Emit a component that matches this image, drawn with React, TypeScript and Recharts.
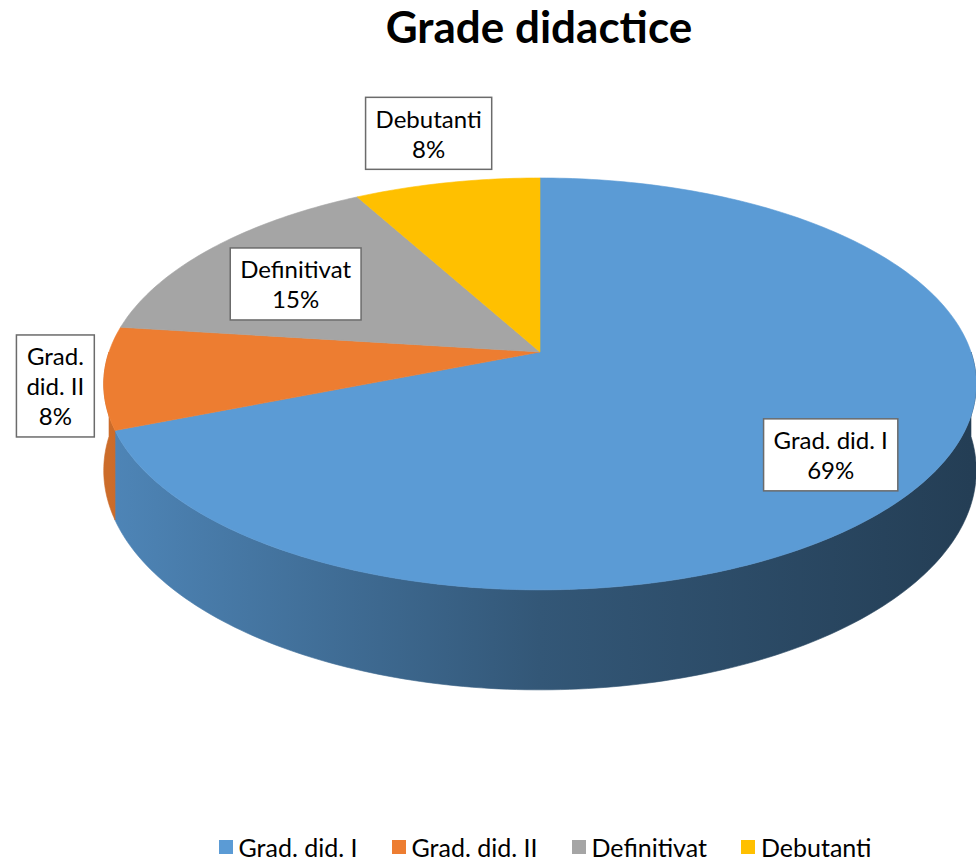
import React from 'react';
import { PieChart, Pie, Cell, Legend } from 'recharts';

const TITLE = 'Grade didactice';
const CATEGORIES = ['Grad. did. I', 'Grad. did. II', 'Definitivat', 'Debutanti'];
const SHARES = [69, 8, 15, 8];
const COLORS = ['#5B9BD5', '#ED7D31', '#A5A5A5', '#FFC000'];

const data = CATEGORIES.map((name, i) => ({ name, value: SHARES[i] }));

const W = 976;
const H = 863;
const CX = 540;
const CY = 352;
const R = 431;
// fake 3d: vertical squash, perspective and wall height
const TILT = 201 / 431;
const PERSP = 0.155;
const DEPTH = 84.5;
const FONT = 'Lato, "Open Sans", sans-serif';
const LABEL_SIZE = 24;
const LINE_H = 30;
const PAD_X = 10;
const PAD_Y = 6;
const GAP = 10;

const project = (cx: number, cy: number, r: number, angle: number, f: number, h = 0) => {
    const a = (angle * Math.PI) / 180;
    const X = Math.cos(a) * f;
    const Z = Math.sin(a) * f;
    const w = 1 + PERSP * Z;
    return { x: cx + (r * X) / w, y: cy + (-r * TILT * Z + h) / w };
};

const arcPoints = (cx: number, cy: number, r: number, from: number, to: number, h = 0) => {
    const steps = Math.max(2, Math.ceil(Math.abs(to - from)));
    const pts = [];
    for (let i = 0; i <= steps; i++) {
        const p = project(cx, cy, r, from + ((to - from) * i) / steps, 1, h);
        pts.push(`${p.x.toFixed(2)},${p.y.toFixed(2)}`);
    }
    return pts;
};

const shade = (hex: string, k: number) => {
    const n = parseInt(hex.slice(1), 16);
    const c = [(n >> 16) & 255, (n >> 8) & 255, n & 255].map(v => Math.round(v * k));
    return `rgb(${c[0]},${c[1]},${c[2]})`;
};

const TopShape = (p: any) => {
    const { cx, cy, outerRadius, startAngle, endAngle, fill } = p;
    const pts = arcPoints(cx, cy, outerRadius, startAngle, endAngle);
    const d = `M${cx},${cy} L${pts.join(' L')} Z`;
    return <path d={d} fill={fill} stroke={fill} strokeWidth={0.6} />;
};

const WallShape = (p: any) => {
    const { cx, cy, outerRadius, startAngle, endAngle, fill } = p;
    const lo = Math.max(Math.min(startAngle, endAngle), -180);
    const hi = Math.min(Math.max(startAngle, endAngle), 0);
    if (lo >= hi) return <g />;
    const top = arcPoints(cx, cy, outerRadius, hi, lo);
    const bottom = arcPoints(cx, cy, outerRadius, lo, hi, DEPTH);
    const id = `wall-${String(fill).replace('#', '')}`;
    return (
        <g>
            <defs>
                <linearGradient id={id} gradientUnits="userSpaceOnUse" x1={cx - outerRadius} y1={0} x2={cx + outerRadius} y2={0}>
                    <stop offset="0" stopColor={shade(fill, 0.86)} />
                    <stop offset="0.5" stopColor={shade(fill, 0.56)} />
                    <stop offset="1" stopColor={shade(fill, 0.4)} />
                </linearGradient>
            </defs>
            <path d={`M${top.join(' L')} L${bottom.join(' L')} Z`} fill={`url(#${id})`} stroke={`url(#${id})`} strokeWidth={0.6} />
        </g>
    );
};

let measureCtx: CanvasRenderingContext2D | null = null;
const textWidth = (s: string) => {
    if (!measureCtx) measureCtx = document.createElement('canvas').getContext('2d');
    if (!measureCtx) return s.length * LABEL_SIZE * 0.5;
    measureCtx.font = `${LABEL_SIZE}px ${FONT}`;
    return measureCtx.measureText(s).width;
};

const wrap = (s: string, maxW: number) => {
    const words = s.split(' ');
    const lines: string[] = [];
    let cur = '';
    words.forEach(wd => {
        const next = cur ? `${cur} ${wd}` : wd;
        if (cur && textWidth(next) > maxW) {
            lines.push(cur);
            cur = wd;
        } else cur = next;
    });
    if (cur) lines.push(cur);
    return lines;
};

const renderLabel = (p: any) => {
    const { cx, cy, outerRadius, startAngle, endAngle, percent, name } = p;
    const mid = (startAngle + endAngle) / 2;
    const pct = `${Math.round(percent * 100)}%`;
    let lines: string[];
    let center: { x: number; y: number };
    let bw: number;
    let bh: number;
    if (percent >= 0.1) {
        lines = [name, pct];
        bw = Math.max(...lines.map(textWidth)) + PAD_X * 2;
        bh = lines.length * LINE_H + PAD_Y * 2;
        center = project(cx, cy, outerRadius, mid, 0.72 + percent * 0.06, 10);
    } else {
        const rim = project(cx, cy, outerRadius, mid, 1);
        const cos = Math.cos((mid * Math.PI) / 180);
        const sin = Math.sin((mid * Math.PI) / 180);
        const maxW = cos < -0.5 ? rim.x - GAP - 16 - PAD_X * 2 : cos > 0.5 ? W - rim.x - GAP - 16 - PAD_X * 2 : 400;
        lines = [...wrap(name, maxW), pct];
        bw = Math.max(...lines.map(textWidth)) + PAD_X * 2;
        bh = lines.length * LINE_H + PAD_Y * 2;
        center = { x: rim.x + cos * (bw / 2 + GAP), y: rim.y - sin * (bh / 2 + GAP + 5) };
    }
    const x0 = center.x - bw / 2;
    const y0 = center.y - bh / 2;
    return (
        <g>
            <rect x={x0} y={y0} width={bw} height={bh} fill="#fff" stroke="#6b6b6b" strokeWidth={1.5} />
            {lines.map((ln, i) => (
                <text key={i} x={center.x} y={y0 + PAD_Y + LINE_H * (i + 0.5)} textAnchor="middle" dominantBaseline="central"
                    fontFamily={FONT} fontSize={LABEL_SIZE} fill="#000">{ln}</text>
            ))}
        </g>
    );
};

const renderLegend = () => (
    <div style={{ display: 'flex', justifyContent: 'center', gap: 34, fontFamily: FONT, fontSize: 25, color: '#000' }}>
        {CATEGORIES.map((c, i) => (
            <span key={c} style={{ display: 'flex', alignItems: 'center' }}>
                <span style={{ width: 14, height: 14, background: COLORS[i], marginRight: 6, display: 'inline-block' }} />
                {c}
            </span>
        ))}
    </div>
);

export default function App() {
    return (
        <div style={{ position: 'absolute', left: 0, top: 0, width: W, height: H, background: '#fff' }}>
            <div style={{ position: 'absolute', top: 0, left: 539, transform: 'translateX(-50%)', whiteSpace: 'nowrap',
                fontFamily: FONT, fontWeight: 700, fontSize: 44, lineHeight: 1.2, color: '#000' }}>
                {TITLE}
            </div>
            <PieChart width={W} height={H} margin={{ top: 0, right: 0, bottom: 0, left: 0 }} style={{ position: 'absolute', left: 0, top: 0 }}>
                <Pie data={data} dataKey="value" nameKey="name" cx={CX} cy={CY} outerRadius={R} startAngle={90} endAngle={-270}
                    isAnimationActive={false} legendType="none" shape={WallShape} stroke="none">
                    {data.map((d, i) => <Cell key={d.name} fill={COLORS[i]} />)}
                </Pie>
                <Pie data={data} dataKey="value" nameKey="name" cx={CX} cy={CY} outerRadius={R} startAngle={90} endAngle={-270}
                    isAnimationActive={false} shape={TopShape} stroke="none" label={renderLabel} labelLine={false}>
                    {data.map((d, i) => <Cell key={d.name} fill={COLORS[i]} />)}
                </Pie>
                <Legend content={renderLegend} wrapperStyle={{ position: 'absolute', top: 832, left: 57, width: W }} />
            </PieChart>
        </div>
    );
}
